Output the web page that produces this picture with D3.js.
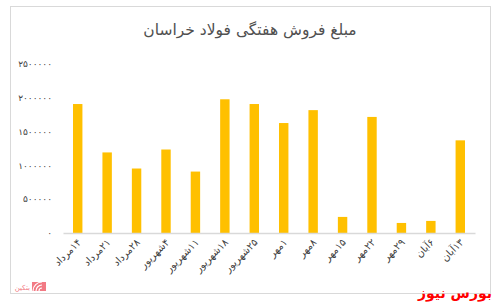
<!DOCTYPE html>
<html><head><meta charset="utf-8">
<script src="https://cdn.jsdelivr.net/npm/d3@7"></script>
<style>body{margin:0;background:#fff}svg{display:block}text{font-family:"DejaVu Sans",sans-serif}</style>
</head><body><svg id="c" width="497" height="305"></svg>
<script>
const categories = ["۱۴مرداد","۲۱مرداد","۲۸مرداد","۴شهریور","۱۱شهریور","۱۸شهریور","۲۵شهریور","۱مهر","۸مهر","۱۵مهر","۲۲مهر","۲۹مهر","۶آبان","۱۳آبان"];
const sales = [1900000,1187000,950000,1230000,905000,1970000,1900000,1620000,1810000,237000,1710000,148000,178000,1365000];
const yTicks = [0,500000,1000000,1500000,2000000,2500000];
const yTickLabels = ["۰","۵۰۰۰۰۰","۱۰۰۰۰۰۰","۱۵۰۰۰۰۰","۲۰۰۰۰۰۰","۲۵۰۰۰۰۰"];
const title = "مبلغ فروش هفتگی فولاد خراسان";

const svg = d3.select("#c");
svg.append("rect").attr("x",10.5).attr("y",6.5).attr("width",480).attr("height",287)
  .attr("fill","#fff").attr("stroke","#d9d9d9");

const x = d3.scaleBand().domain(categories).range([63,475]).paddingInner(0.68).paddingOuter(0.34);
const y = d3.scaleLinear().domain([0,2500000]).range([233,63.3]);

svg.append("text").attr("x",250).attr("y",35).attr("text-anchor","middle")
  .attr("font-size",15.5).attr("fill","#505050").text(title);

const ya = svg.append("g").attr("transform","translate(55,0)")
  .call(d3.axisLeft(y).tickValues(yTicks).tickSize(0).tickFormat((d,i)=>yTickLabels[i]));
ya.select(".domain").remove();
ya.selectAll("text").attr("font-size",9).attr("fill","#404040").attr("font-family","DejaVu Sans");

svg.append("g").selectAll("rect").data(sales).join("rect")
  .attr("x",(d,i)=>x(categories[i])).attr("width",x.bandwidth())
  .attr("y",d=>y(d)).attr("height",d=>y(0)-y(d)).attr("fill","#ffc000");

const xa = svg.append("g").attr("transform","translate(0,233)")
  .call(d3.axisBottom(x).tickSize(0).tickFormat(d=>"\u202B"+d+"\u202C"));
xa.select(".domain").attr("stroke","#d9d9d9").attr("stroke-width",1.3);
xa.selectAll("text").attr("font-size",10).attr("fill","#404040").attr("font-family","DejaVu Sans")
  .attr("text-anchor","end").attr("dy",null).attr("y",0)
  .attr("transform","translate(4,10) rotate(-45)");

// watermark
svg.append("text").attr("x",492).attr("y",298).attr("text-anchor","end")
  .attr("font-size",14).attr("font-weight","bold").attr("fill","#ff0000").text("بورس نیوز");
// small logo bottom-left
const lg = svg.append("g");
lg.append("rect").attr("x",32).attr("y",282).attr("width",14).attr("height",9).attr("fill","#f27a84");
[3,6,9].forEach(r=>lg.append("path").attr("d",`M${42-r},291 A${r},${r} 0 0 1 ${42},${291-r}`)
  .attr("fill","none").attr("stroke","#fff").attr("stroke-width",1.2));
lg.append("text").attr("x",30).attr("y",290).attr("text-anchor","end").attr("font-size",7)
  .attr("fill","#f27a84").text("بتکین");
</script></body></html>
